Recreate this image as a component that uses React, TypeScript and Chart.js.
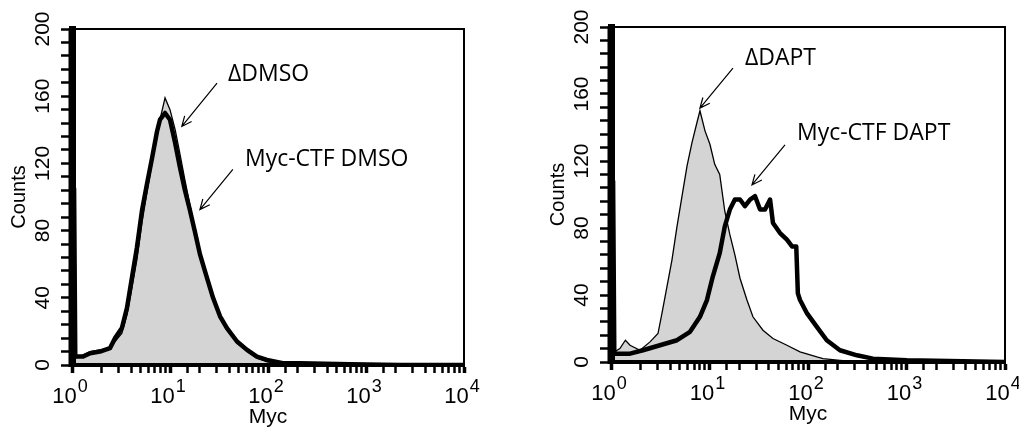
import React, { useEffect, useRef } from 'react';
import { Chart, registerables } from 'chart.js';

Chart.register(...registerables);
Chart.defaults.font.family = '"Liberation Sans", Arial, sans-serif';
Chart.defaults.color = '#000';

// ---- Data (Myc fluorescence, counts) ----
const dmsoX = [1, 1.05, 1.08, 1.3, 1.53, 1.93, 2.44, 2.75, 3.23, 3.64, 4.09, 4.6, 5.18, 5.83, 6.55, 7.37, 7.9, 8.9, 10, 11.3, 12.6, 14.2, 16, 18, 20.2, 23.8, 27.5, 32.4, 38.1, 48.3, 61.1, 77.1, 97.5, 142, 212, 687, 2225, 10000];
const mycDmsoY = [105, 105, 5, 5, 7, 8, 10, 16, 22, 34, 52, 70, 92, 108, 123, 139, 146, 150, 146, 132, 118, 104, 92, 79, 66, 52, 40, 29, 22, 14, 9, 5, 3, 1, 1, 0.5, 0, 0];
const deltaDmsoY = [100, 100, 4, 6, 8, 9, 10, 14, 19, 30, 46, 63, 85, 103, 120, 136, 146, 159, 152, 140, 126, 110, 95, 80, 66, 51, 39, 28, 21, 13, 8, 4, 2, 1, 1, 0.5, 0, 0];

const deltaDaptX = [1, 1.05, 1.08, 1.23, 1.4, 1.56, 1.97, 2.49, 3.0, 3.29, 3.7, 4.16, 4.68, 5.26, 5.91, 6.64, 7.46, 8.0, 9.0, 10.1, 11.3, 12.7, 14.3, 16.1, 18.1, 20.4, 24, 27.6, 34.9, 44.1, 61.1, 83, 123, 142, 211, 336, 10000];
const deltaDaptY = [100, 100, 6, 8, 13, 10, 7, 12, 17, 29, 45, 61, 81, 99, 117, 131, 143, 150, 138, 130, 118, 112, 90, 76, 64, 50, 37, 27, 19, 14, 10, 6, 3, 2, 1, 0, 0];

const mycDaptX = [1, 1.05, 1.08, 1.56, 2.11, 3.14, 4.68, 6.34, 8.0, 9.42, 10.8, 12.7, 14.3, 16.1, 18.1, 20.4, 22.9, 25.8, 29.0, 32.6, 36.6, 41.2, 44.1, 52, 61.1, 68.8, 76, 78.9, 83, 97.8, 123, 155, 211, 314, 456, 1010, 10000];
const mycDaptY = [108, 108, 5, 5, 7, 10, 13, 18, 27, 37, 51, 65, 81, 91, 97, 97, 93, 97, 99, 91, 91, 97, 83, 77, 73, 69, 69, 41, 37, 29, 21, 13, 7, 4, 2, 1, 0];

const yTickLabels = [0, 40, 80, 120, 160, 200];
const xDecades = [1, 10, 100, 1000, 10000];
const xExponents = ['0', '1', '2', '3', '4'];

type Note = { text: string; tx: number; ty: number; ax0: number; ay0: number; ax1: number; ay1: number };

const dmsoNotes: Note[] = [
  { text: '\u0394DMSO', tx: 39.1, ty: 169, ax0: 30.2, ay0: 167.8, ax1: 13.2, ay1: 142 },
  { text: 'Myc-CTF DMSO', tx: 58.2, ty: 118.2, ax0: 43.8, ay0: 116.4, ax1: 20.2, ay1: 92.5 },
];
const daptNotes: Note[] = [
  { text: '\u0394DAPT', tx: 22.9, ty: 177.3, ax0: 17.3, ay0: 175.5, ax1: 8.0, ay1: 151.6 },
  { text: 'Myc-CTF DAPT', tx: 77.3, ty: 132.5, ax0: 58.4, ay0: 129.6, ax1: 27.0, ay1: 105.7 },
];

function toPoints(xs: number[], ys: number[]) {
  return xs.map((x, i) => ({ x, y: ys[i] }));
}

function makeNotesPlugin(notes: Note[]) {
  return {
    id: 'notes',
    afterDatasetsDraw(chart: any) {
      const { ctx, scales } = chart;
      const sx = scales.x;
      const sy = scales.y;
      ctx.save();
      ctx.fillStyle = '#000';
      ctx.strokeStyle = '#000';
      ctx.font = '23px "Open Sans"';
      ctx.textBaseline = 'alphabetic';
      ctx.textAlign = 'left';
      for (const n of notes) {
        ctx.fillText(n.text, sx.getPixelForValue(n.tx), sy.getPixelForValue(n.ty));
        const x0 = sx.getPixelForValue(n.ax0);
        const y0 = sy.getPixelForValue(n.ay0);
        const x1 = sx.getPixelForValue(n.ax1);
        const y1 = sy.getPixelForValue(n.ay1);
        const ang = Math.atan2(y1 - y0, x1 - x0);
        const L = 11;
        const a = 0.42;
        ctx.lineWidth = 1.2;
        ctx.beginPath();
        ctx.moveTo(x0, y0);
        ctx.lineTo(x1, y1);
        ctx.moveTo(x1 - L * Math.cos(ang - a), y1 - L * Math.sin(ang - a));
        ctx.lineTo(x1, y1);
        ctx.lineTo(x1 - L * Math.cos(ang + a), y1 - L * Math.sin(ang + a));
        ctx.stroke();
      }
      ctx.restore();
    },
  };
}

const frameAndLabelsPlugin = {
  id: 'frameLabels',
  afterDraw(chart: any) {
    const { ctx, chartArea, scales } = chart;
    const sx = scales.x;
    const { left, right, top, bottom } = chartArea;
    ctx.save();
    ctx.strokeStyle = '#000';
    ctx.lineCap = 'butt';
    ctx.lineWidth = 2;
    ctx.beginPath();
    ctx.moveTo(left, top);
    ctx.lineTo(right, top);
    ctx.lineTo(right, bottom);
    ctx.stroke();
    ctx.lineWidth = 7;
    ctx.beginPath();
    ctx.moveTo(left, top - 1);
    ctx.lineTo(left, bottom + 2);
    ctx.stroke();
    ctx.lineWidth = 4;
    ctx.beginPath();
    ctx.moveTo(left - 3, bottom);
    ctx.lineTo(right + 1, bottom);
    ctx.stroke();
    ctx.fillStyle = '#000';
    ctx.textBaseline = 'alphabetic';
    xDecades.forEach((v, i) => {
      const px = sx.getPixelForValue(v);
      ctx.font = '22px "Liberation Sans"';
      const bw = ctx.measureText('10').width;
      ctx.font = '18px "Liberation Sans"';
      const ew = ctx.measureText(xExponents[i]).width;
      const start = px - (bw + ew + 1) / 2 - 2;
      ctx.font = '22px "Liberation Sans"';
      ctx.fillText('10', start, bottom + 38);
      ctx.font = '18px "Liberation Sans"';
      ctx.fillText(xExponents[i], start + bw + 1, bottom + 27);
    });
    ctx.restore();
  },
};

function makeConfig(gray: { x: number; y: number }[], thick: { x: number; y: number }[], pad: any, xh: number, titlePad: number, notes: Note[]) {
  return {
    type: 'line',
    data: {
      datasets: [
        {
          label: 'gray',
          data: gray,
          borderColor: '#000',
          borderWidth: 1.3,
          backgroundColor: '#d4d4d4',
          fill: 'origin',
          pointRadius: 0,
          tension: 0,
          order: 2,
        },
        {
          label: 'thick',
          data: thick,
          borderColor: '#000',
          borderWidth: 4.5,
          borderJoinStyle: 'round',
          fill: false,
          pointRadius: 0,
          tension: 0,
          order: 1,
        },
      ],
    },
    options: {
      responsive: false,
      animation: false,
      layout: { padding: pad },
      plugins: { legend: { display: false }, tooltip: { enabled: false } },
      scales: {
        x: {
          type: 'logarithmic',
          min: 1,
          max: 10000,
          ticks: { display: false, autoSkip: false },
          grid: {
            drawOnChartArea: false,
            tickLength: 8,
            tickColor: '#000',
            tickWidth: (c: any) => (c.tick && c.tick.major ? 3.5 : 2.5),
          },
          border: { display: true, color: '#000', width: 4, z: 1 },
          title: {
            display: true,
            text: 'Myc',
            color: '#000',
            font: { family: '"Liberation Sans"', size: 21, lineHeight: 1 },
            padding: { top: 0, bottom: titlePad },
          },
          afterFit: (s: any) => {
            s.height = xh;
          },
        },
        y: {
          type: 'linear',
          min: 0,
          max: 200,
          ticks: {
            stepSize: 8,
            maxTicksLimit: 100,
            autoSkip: false,
            minRotation: 90,
            maxRotation: 90,
            crossAlign: 'center',
            padding: 0,
            color: '#000',
            font: { family: '"Liberation Sans"', size: 21 },
            callback: (v: any) => (yTickLabels.includes(Number(v)) ? String(v) : ''),
          },
          grid: { drawOnChartArea: false, tickLength: 11, tickColor: '#000', tickWidth: 2.5 },
          border: { display: true, color: '#000', width: 7, z: 1 },
          title: {
            display: true,
            text: 'Counts',
            color: '#000',
            font: { family: '"Liberation Sans"', size: 20 },
            padding: { top: 7, bottom: 0 },
          },
          afterFit: (s: any) => {
            s.width = 72;
          },
        },
      },
    },
    plugins: [makeNotesPlugin(notes), frameAndLabelsPlugin],
  } as any;
}

export default function App() {
  const leftRef = useRef<HTMLCanvasElement | null>(null);
  const rightRef = useRef<HTMLCanvasElement | null>(null);

  useEffect(() => {
    const left = new Chart(
      leftRef.current as HTMLCanvasElement,
      makeConfig(toPoints(dmsoX, deltaDmsoY), toPoints(dmsoX, mycDmsoY), { left: 0, top: 29, right: 45, bottom: 0 }, 63, 0, dmsoNotes)
    );
    const right = new Chart(
      rightRef.current as HTMLCanvasElement,
      makeConfig(toPoints(deltaDaptX, deltaDaptY), toPoints(mycDaptX, mycDaptY), { left: 30, top: 27, right: 14, bottom: 0 }, 66, 3, daptNotes)
    );
    return () => {
      left.destroy();
      right.destroy();
    };
  }, []);

  return (
    <div style={{ position: 'absolute', left: 0, top: 0, width: 1019, height: 428, background: '#fff' }}>
      <canvas ref={leftRef} width={509} height={428} style={{ position: 'absolute', left: 0, top: 0, width: 509, height: 428 }} />
      <canvas ref={rightRef} width={510} height={428} style={{ position: 'absolute', left: 509, top: 0, width: 510, height: 428 }} />
    </div>
  );
}
